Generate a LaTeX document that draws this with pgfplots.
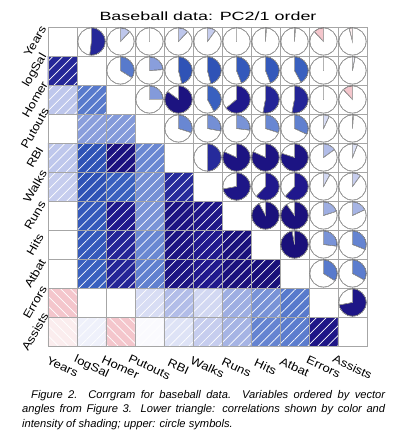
\documentclass[border=0pt]{standalone}
\usepackage{fontspec}
\setmainfont{Liberation Sans}
\newfontfamily\widefont[FakeStretch=1.5]{Liberation Sans}
\newfontfamily\labfont[FakeStretch=1.15]{Liberation Sans}
\usepackage{pgfplots}
\pgfplotsset{compat=1.18}
\usetikzlibrary{patterns.meta}
\pgfplotsset{colormap={corr}{
 rgb255(0pt)=(170,20,30)
 rgb255(50pt)=(215,80,90)
 rgb255(80pt)=(238,170,178)
 rgb255(90pt)=(245,205,210)
 rgb255(95pt)=(250,232,234)
 rgb255(100pt)=(255,255,255)
 rgb255(105pt)=(228,232,248)
 rgb255(110pt)=(198,205,238)
 rgb255(120pt)=(158,174,226)
 rgb255(130pt)=(105,135,210)
 rgb255(140pt)=(62,102,196)
 rgb255(147pt)=(45,80,180)
 rgb255(150pt)=(38,42,155)
 rgb255(160pt)=(32,25,142)
 rgb255(200pt)=(25,15,120)
}}
% lower triangle (x = column, y = 10 - row); zero on and above the diagonal
\pgfplotstableread{
x y r
0 0 -0.04
1 0 0.03
2 0 -0.12
3 0 0.01
4 0 0.06
5 0 0.10
6 0 0.18
7 0 0.31
8 0 0.33
9 0 0.72
10 0 0
0 1 -0.12
1 1 0.00
2 1 0.00
3 1 0.07
4 1 0.15
5 1 0.08
6 1 0.20
7 1 0.27
8 1 0.34
9 1 0
10 1 0
0 2 0.00
1 2 0.42
2 2 0.53
3 2 0.32
4 2 0.80
5 2 0.62
6 2 0.90
7 2 0.97
8 2 0
9 2 0
10 2 0
0 3 0.00
1 3 0.44
2 3 0.53
3 3 0.30
4 3 0.82
5 3 0.62
6 3 0.92
7 3 0
8 3 0
9 3 0
10 3 0
0 4 0.00
1 4 0.44
2 4 0.64
3 4 0.27
4 4 0.82
5 4 0.72
6 4 0
7 4 0
8 4 0
9 4 0
10 4 0
0 5 0.10
1 5 0.46
2 5 0.42
3 5 0.28
4 5 0.50
5 5 0
6 5 0
7 5 0
8 5 0
9 5 0
10 5 0
0 6 0.12
1 6 0.46
2 6 0.85
3 6 0.30
4 6 0
5 6 0
6 6 0
7 6 0
8 6 0
9 6 0
10 6 0
0 7 0.00
1 7 0.24
2 7 0.25
3 7 0
4 7 0
5 7 0
6 7 0
7 7 0
8 7 0
9 7 0
10 7 0
0 8 0.12
1 8 0.34
2 8 0
3 8 0
4 8 0
5 8 0
6 8 0
7 8 0
8 8 0
9 8 0
10 8 0
0 9 0.52
1 9 0
2 9 0
3 9 0
4 9 0
5 9 0
6 9 0
7 9 0
8 9 0
9 9 0
10 9 0
0 10 0
1 10 0
2 10 0
3 10 0
4 10 0
5 10 0
6 10 0
7 10 0
8 10 0
9 10 0
10 10 0
}\lowertab
% upper triangle: pies
\pgfplotstableread{
x y r
1 10 0.52
2 10 0.12
3 10 0.00
4 10 0.12
5 10 0.10
6 10 0.00
7 10 0.01
8 10 0.01
9 10 -0.12
10 10 -0.04
2 9 0.34
3 9 0.24
4 9 0.46
5 9 0.46
6 9 0.44
7 9 0.44
8 9 0.42
9 9 0.00
10 9 0.03
3 8 0.25
4 8 0.85
5 8 0.42
6 8 0.64
7 8 0.53
8 8 0.53
9 8 0.00
10 8 -0.12
4 7 0.30
5 7 0.28
6 7 0.27
7 7 0.30
8 7 0.32
9 7 0.07
10 7 0.01
5 6 0.50
6 6 0.82
7 6 0.82
8 6 0.80
9 6 0.15
10 6 0.06
6 5 0.72
7 5 0.62
8 5 0.62
9 5 0.08
10 5 0.10
7 4 0.92
8 4 0.90
9 4 0.20
10 4 0.18
8 3 0.97
9 3 0.27
10 3 0.31
9 2 0.34
10 2 0.33
10 1 0.72
}\uppertab
\begin{document}
\begin{tikzpicture}
\path[use as bounding box] (-48bp,-100bp) rectangle (345bp,346bp);
\begin{axis}[
  at={(0,0)}, anchor=south west,
  scale only axis, width=319bp, height=319bp,
  xmin=-0.5, xmax=10.5, ymin=-0.5, ymax=10.5,
  colormap name=corr, point meta min=-1, point meta max=1,
  xtick={0,...,10}, ytick={0,...,10},
  xticklabels={Years,logSal,Homer,Putouts,RBI,Walks,Runs,Hits,Atbat,Errors,Assists},
  yticklabels={Assists,Errors,Atbat,Hits,Runs,Walks,RBI,Putouts,Homer,logSal,Years},
  xticklabel style={anchor=center, rotate=-25, font=\labfont\fontsize{11.5}{12}\selectfont},
  yticklabel style={anchor=center, rotate=60, font=\labfont\fontsize{11.5}{12}\selectfont},
  xticklabel shift=21bp, yticklabel shift=13bp,
  major tick length=0pt, minor tick length=0pt,
  minor xtick={-0.5,0.5,...,10.5}, minor ytick={-0.5,0.5,...,10.5},
  xminorgrids, yminorgrids,
  minor grid style={draw=black!35, line width=0.6bp},
  axis line style={draw=black!35, line width=0.6bp},
  axis on top,
]
\addplot[matrix plot*, mesh/cols=11, point meta=explicit] table[x=x, y=y, meta=r] {\lowertab};
% hatching, positive correlations
\addplot[draw=none, pattern={Lines[angle=45, distance=7bp, line width=0.7bp]}, pattern color=white]
 coordinates {(0.5,-0.5) (1.5,-0.5) (1.5,0.5) (2.5,0.5) (2.5,-0.5) (9.5,-0.5) (9.5,0.5) (8.5,0.5) (8.5,1.5) (7.5,1.5) (7.5,2.5) (6.5,2.5) (6.5,3.5) (5.5,3.5) (5.5,4.5) (4.5,4.5) (4.5,5.5) (3.5,5.5) (3.5,6.5) (2.5,6.5) (2.5,7.5) (1.5,7.5) (1.5,8.5) (0.5,8.5) (0.5,9.5) (-0.5,9.5) (-0.5,1.5) (0.5,1.5)} -- cycle;
% hatching, negative correlations
\addplot[draw=none, pattern={Lines[angle=-45, distance=7bp, line width=0.7bp]}, pattern color=white]
 coordinates {(-0.5,-0.5) (0.5,-0.5) (0.5,1.5) (-0.5,1.5)} -- cycle;
\addplot[draw=none, pattern={Lines[angle=-45, distance=7bp, line width=0.7bp]}, pattern color=white]
 coordinates {(1.5,-0.5) (2.5,-0.5) (2.5,0.5) (1.5,0.5)} -- cycle;
% pies: meta r in [-1,1] is transformed to [0,1000]
\addplot[scatter, only marks, mark=*, mark size=0pt, point meta=explicit,
  scatter/use mapped color={draw=none, fill=none},
  scatter/@pre marker code/.append code={%
    \pgfkeys{/pgf/fpu=false}%
    \pgfmathsetmacro\endang{450-0.72*\pgfplotspointmetatransformed}%
    \path[fill=white] (0pt,0pt) circle[radius=13.6bp];
    \path[fill=mapped color] (0pt,0pt) -- (90:13.6bp) arc[start angle=90, end angle=\endang, radius=13.6bp] -- cycle;
    \draw[black!30, line width=0.5bp] (90:13.6bp) -- (0pt,0pt) -- (\endang:13.6bp);
    \draw[black!30, line width=0.5bp] (0pt,0pt) circle[radius=13.6bp];
  },
] table[x=x, y=y, meta=r] {\uppertab};
\end{axis}
\node[anchor=base, inner sep=0pt] at (160bp,325.5bp)
  {\widefont\fontsize{12}{14}\selectfont Baseball data: PC2/1 order};
\node[anchor=north west, text width=363bp, align=justify, inner sep=0pt,
  font=\itshape\fontsize{11.2}{14.6}\selectfont] at (-26bp,-44bp)
  {\hspace*{9bp}Figure 2.\ \ Corrgram for baseball data. Variables ordered by vector\linebreak
   angles from Figure 3. Lower triangle: correlations shown by color and\linebreak
   intensity of shading; upper: circle symbols.};
\end{tikzpicture}
\end{document}
